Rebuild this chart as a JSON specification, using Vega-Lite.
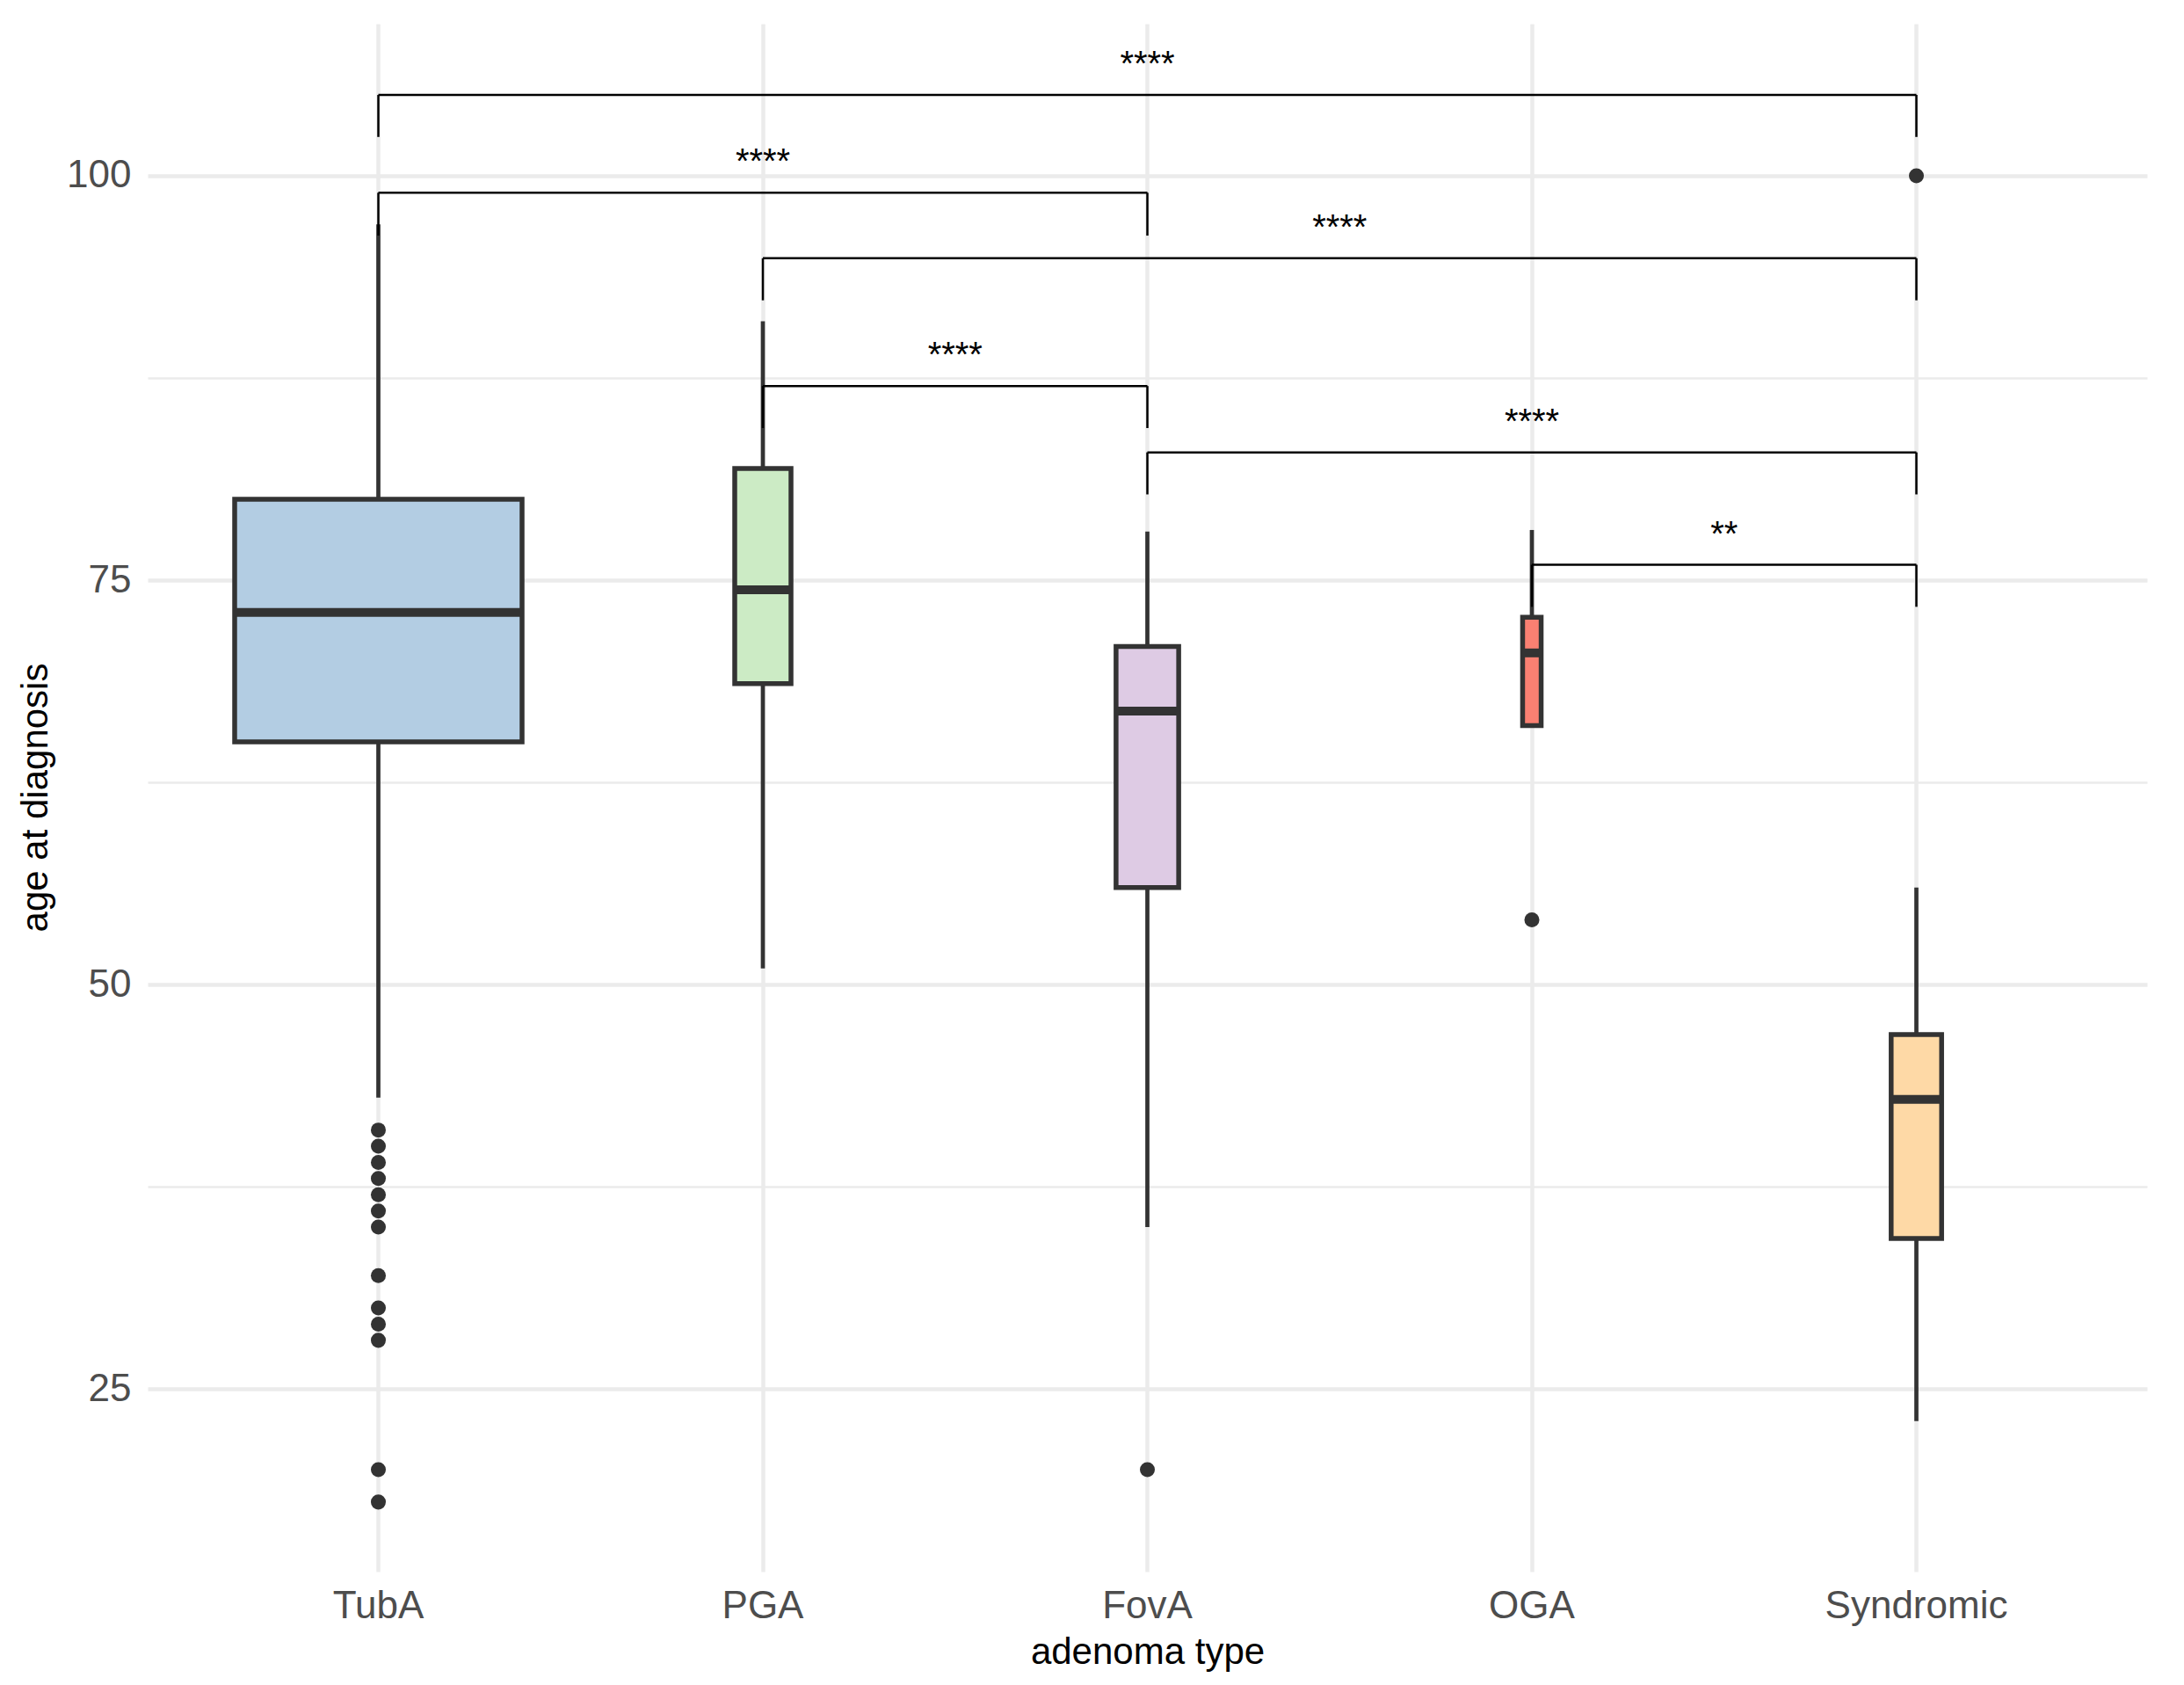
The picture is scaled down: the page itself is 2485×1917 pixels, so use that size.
{
  "$schema": "https://vega.github.io/schema/vega-lite/v6.json",
  "width": 2275,
  "height": 1761,
  "autosize": {"type": "none"},
  "padding": {"left": 168, "top": 27, "right": 42, "bottom": 129},
  "background": "white",
  "config": {
    "view": {"stroke": null},
    "font": "Liberation Sans",
    "axis": {
      "domain": false,
      "ticks": false,
      "tickSize": 0,
      "labelLimit": 0,
      "labelFont": "Liberation Sans",
      "titleFont": "Liberation Sans",
      "labelFontSize": 44,
      "titleFontSize": 42,
      "labelColor": "#4D4D4D",
      "titleColor": "#000000",
      "titleFontWeight": "normal",
      "gridColor": "#EBEBEB"
    }
  },
  "datasets": {
    "boxes": [
      {"type": "TubA", "lower": 43, "q1": 65, "median": 73, "q3": 80, "upper": 97, "n": 1200},
      {"type": "PGA", "lower": 51, "q1": 68.6, "median": 74.4, "q3": 81.9, "upper": 91, "n": 46},
      {"type": "FovA", "lower": 35, "q1": 56, "median": 66.9, "q3": 70.9, "upper": 78, "n": 57},
      {"type": "OGA", "lower": 66, "q1": 66, "median": 70.5, "q3": 72.7, "upper": 78.1, "n": 5},
      {"type": "Syndromic", "lower": 23, "q1": 34.3, "median": 42.9, "q3": 46.9, "upper": 56, "n": 37}
    ],
    "outliers": [
      {"type": "TubA", "age": 41}, {"type": "TubA", "age": 40}, {"type": "TubA", "age": 39},
      {"type": "TubA", "age": 38}, {"type": "TubA", "age": 37}, {"type": "TubA", "age": 36},
      {"type": "TubA", "age": 35}, {"type": "TubA", "age": 32}, {"type": "TubA", "age": 30},
      {"type": "TubA", "age": 29}, {"type": "TubA", "age": 28}, {"type": "TubA", "age": 20},
      {"type": "TubA", "age": 18},
      {"type": "FovA", "age": 20},
      {"type": "OGA", "age": 54},
      {"type": "Syndromic", "age": 100}
    ],
    "brackets": [
      {"g1": "TubA", "g2": "Syndromic", "y": 105.0, "tip": 102.4, "label": "****", "lx": "FovA", "lpos": "center"},
      {"g1": "TubA", "g2": "FovA", "y": 98.95, "tip": 96.3, "label": "****", "lx": "PGA", "lpos": "center"},
      {"g1": "PGA", "g2": "Syndromic", "y": 94.9, "tip": 92.3, "label": "****", "lx": "FovA", "lpos": "edge"},
      {"g1": "PGA", "g2": "FovA", "y": 87.0, "tip": 84.4, "label": "****", "lx": "PGA", "lpos": "edge"},
      {"g1": "FovA", "g2": "Syndromic", "y": 82.9, "tip": 80.3, "label": "****", "lx": "OGA", "lpos": "center"},
      {"g1": "OGA", "g2": "Syndromic", "y": 75.95, "tip": 73.35, "label": "**", "lx": "OGA", "lpos": "edge"}
    ]
  },
  "layer": [
    {
      "data": {"name": "boxes"},
      "mark": {"type": "rule", "color": "#333333", "strokeWidth": 4.7},
      "encoding": {
        "x": {
          "field": "type", "type": "nominal", "bandPosition": 0.5,
          "title": "adenoma type",
          "scale": {"type": "band", "domain": ["TubA", "PGA", "FovA", "OGA", "Syndromic"], "paddingInner": 0, "paddingOuter": 0.1},
          "axis": {
            "grid": true, "gridWidth": 4.5, "bandPosition": 0.5, "labelAngle": 0,
            "labelBaseline": "alphabetic", "labelPadding": 52,
            "titleY": 104, "titleX": 1137.5, "titleBaseline": "alphabetic", "titleAlign": "center"
          }
        },
        "y": {
          "field": "lower", "type": "quantitative",
          "title": "age at diagnosis",
          "scale": {"domain": [13.7, 109.4], "nice": false, "zero": false},
          "axis": {
            "values": [25, 37.5, 50, 62.5, 75, 87.5, 100],
            "labelExpr": "datum.value % 25 === 0 ? datum.label : ''",
            "grid": true,
            "gridWidth": {"condition": {"test": "datum.value % 25 === 0", "value": 4.5}, "value": 2.3},
            "labelPadding": 19,
            "titleX": -115, "titleY": 880, "titleAngle": -90, "titleBaseline": "alphabetic", "titleAlign": "center"
          }
        },
        "y2": {"field": "q1"}
      }
    },
    {
      "data": {"name": "boxes"},
      "mark": {"type": "rule", "color": "#333333", "strokeWidth": 4.7},
      "encoding": {
        "x": {"field": "type", "type": "nominal", "bandPosition": 0.5, "title": "adenoma type"},
        "y": {"field": "q3", "type": "quantitative", "title": "age at diagnosis"},
        "y2": {"field": "upper"}
      }
    },
    {
      "data": {"name": "boxes"},
      "mark": {"type": "bar", "stroke": "#333333", "strokeWidth": 5.5},
      "encoding": {
        "x": {"field": "type", "type": "nominal", "title": "adenoma type"},
        "y": {"field": "q1", "type": "quantitative", "title": "age at diagnosis"},
        "y2": {"field": "q3"},
        "size": {"field": "n", "type": "quantitative", "scale": {"type": "sqrt", "domain": [0, 1200], "range": [0, 327]}, "legend": null},
        "fill": {
          "field": "type", "type": "nominal", "legend": null,
          "scale": {"domain": ["TubA", "PGA", "FovA", "OGA", "Syndromic"], "range": ["#B3CDE3", "#CCEBC5", "#DECBE4", "#FA8072", "#FED9A6"]}
        }
      }
    },
    {
      "data": {"name": "boxes"},
      "mark": {"type": "tick", "color": "#333333", "thickness": 10, "opacity": 1},
      "encoding": {
        "x": {"field": "type", "type": "nominal", "bandPosition": 0.5, "title": "adenoma type"},
        "y": {"field": "median", "type": "quantitative", "title": "age at diagnosis"},
        "size": {"field": "n", "type": "quantitative", "legend": null}
      }
    },
    {
      "data": {"name": "outliers"},
      "mark": {"type": "circle", "color": "#333333", "opacity": 1, "size": 290},
      "encoding": {
        "x": {"field": "type", "type": "nominal", "bandPosition": 0.5, "title": "adenoma type"},
        "y": {"field": "age", "type": "quantitative", "title": "age at diagnosis"}
      }
    },
    {
      "data": {"name": "brackets"},
      "mark": {"type": "rule", "color": "#000000", "strokeWidth": 2.5},
      "encoding": {
        "x": {"field": "g1", "type": "nominal", "bandPosition": 0.5, "title": "adenoma type"},
        "x2": {"field": "g2"},
        "y": {"field": "y", "type": "quantitative", "title": "age at diagnosis"}
      }
    },
    {
      "data": {"name": "brackets"},
      "mark": {"type": "rule", "color": "#000000", "strokeWidth": 2.5},
      "encoding": {
        "x": {"field": "g1", "type": "nominal", "bandPosition": 0.5, "title": "adenoma type"},
        "y": {"field": "y", "type": "quantitative", "title": "age at diagnosis"},
        "y2": {"field": "tip"}
      }
    },
    {
      "data": {"name": "brackets"},
      "mark": {"type": "rule", "color": "#000000", "strokeWidth": 2.5},
      "encoding": {
        "x": {"field": "g2", "type": "nominal", "bandPosition": 0.5, "title": "adenoma type"},
        "y": {"field": "y", "type": "quantitative", "title": "age at diagnosis"},
        "y2": {"field": "tip"}
      }
    },
    {
      "data": {"name": "brackets"},
      "transform": [{"filter": "datum.lpos === 'center'"}],
      "mark": {"type": "text", "color": "#000000", "fontSize": 40, "baseline": "alphabetic", "align": "center", "dy": -22},
      "encoding": {
        "x": {"field": "lx", "type": "nominal", "bandPosition": 0.5, "title": "adenoma type"},
        "y": {"field": "y", "type": "quantitative", "title": "age at diagnosis"},
        "text": {"field": "label"}
      }
    },
    {
      "data": {"name": "brackets"},
      "transform": [{"filter": "datum.lpos === 'edge'"}],
      "mark": {"type": "text", "color": "#000000", "fontSize": 40, "baseline": "alphabetic", "align": "center", "dy": -22},
      "encoding": {
        "x": {"field": "lx", "type": "nominal", "bandPosition": 1, "title": "adenoma type"},
        "y": {"field": "y", "type": "quantitative", "title": "age at diagnosis"},
        "text": {"field": "label"}
      }
    }
  ]
}
